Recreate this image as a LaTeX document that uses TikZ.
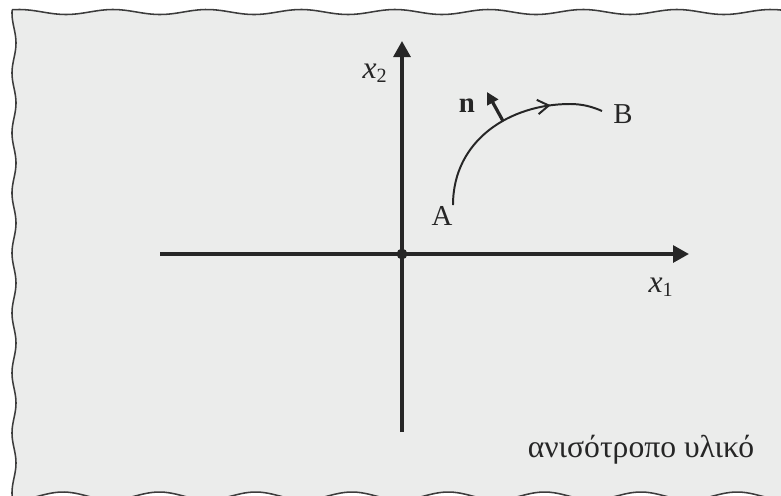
\documentclass[tikz,border=0pt]{standalone}
\usepackage{fontspec}
\setmainfont{Liberation Serif}
\usetikzlibrary{arrows.meta,decorations.markings}
\definecolor{platefill}{HTML}{EBECEB}
\definecolor{edgegray}{HTML}{3C3C3C}
\definecolor{inkgray}{HTML}{262626}
\newcommand{\coordlabel}[1]{{\fontsize{22.5}{26}\selectfont\textit{x}}\textsubscript{#1}}
\tikzset{
  axis/.style={-{Triangle[length=0.40cm,width=0.42cm]}, draw=inkgray, line width=2.5pt},
  plate edge/.style={draw=edgegray, line width=1.1pt},
  path curve/.style={draw=inkgray, line width=1.4pt, postaction={decorate},
    decoration={markings, mark=at position 0.745 with {\arrow{Straight Barb[length=0.28cm,width=0.36cm]}}}},
  normal arrow/.style={-{Triangle[length=0.30cm,width=0.30cm]}, draw=inkgray, line width=2.3pt},
  origin dot/.style={circle, fill=inkgray, minimum size=0.27cm, inner sep=0pt},
  tag text/.style={font=\fontsize{20.5}{24}\selectfont, text=inkgray, inner sep=0pt, anchor=base}
}

\begin{document}
\begin{tikzpicture}[x=0.025cm, y=-0.025cm]
  \useasboundingbox (0,0) rectangle (781,495);
  \clip (0,0) rectangle (781,495);

  % plate with wavy edges
  \fill[platefill] plot[domain=12:781, samples=200] (\x, {12-2.5*cos(3.83*(\x-113))})
    -- (781,505) -- plot[domain=781:14, samples=200] (\x, {496-4*cos(3.738*(\x-63))})
    -- plot[domain=505:10, samples=200] ({14-2*cos(6*(\x-133))}, \x) -- cycle;
  \draw[plate edge] plot[domain=12:781, samples=200] (\x, {12-2.5*cos(3.83*(\x-113))});
  \draw[plate edge] plot[domain=10:505, samples=200] ({14-2*cos(6*(\x-133))}, \x);
  \draw[plate edge] plot[domain=14:781, samples=200] (\x, {496-4*cos(3.738*(\x-63))});

  % axes
  \coordinate (x1 tail) at (160,254);
  \coordinate (x1 tip) at (689,254);
  \coordinate (x2 tail) at (402,432);
  \coordinate (x2 tip) at (402,41);
  \draw[axis] (x1 tail) -- (x1 tip);
  \draw[axis] (x2 tail) -- (x2 tip);
  \node[origin dot] (O) at (402,254) {};
  \node[tag text] (x1 label) at (661,292) {\coordlabel{1}};
  \node[tag text] (x2 label) at (375,78) {\coordlabel{2}};

  % path A to B with normal
  \coordinate (A end) at (453,205);
  \coordinate (B end) at (602,111);
  \coordinate (n foot) at (503,121);
  \coordinate (n head) at (487,92);
  \draw[path curve] (A end) .. controls (453,140) and (510,104) .. (570,104)
    .. controls (583,104) and (593,107) .. (B end);
  \draw[normal arrow] (n foot) -- (n head);
  \node[tag text] (A) at (442,225) {A};
  \node[tag text] (B) at (623,123) {B};
  \node[tag text] (n) at (467,112) {\textbf{n}};

  \node[tag text, font=\fontsize{22.5}{26}\selectfont] (material) at (641,457) {ανισότροπο υλικό};
\end{tikzpicture}
\end{document}
